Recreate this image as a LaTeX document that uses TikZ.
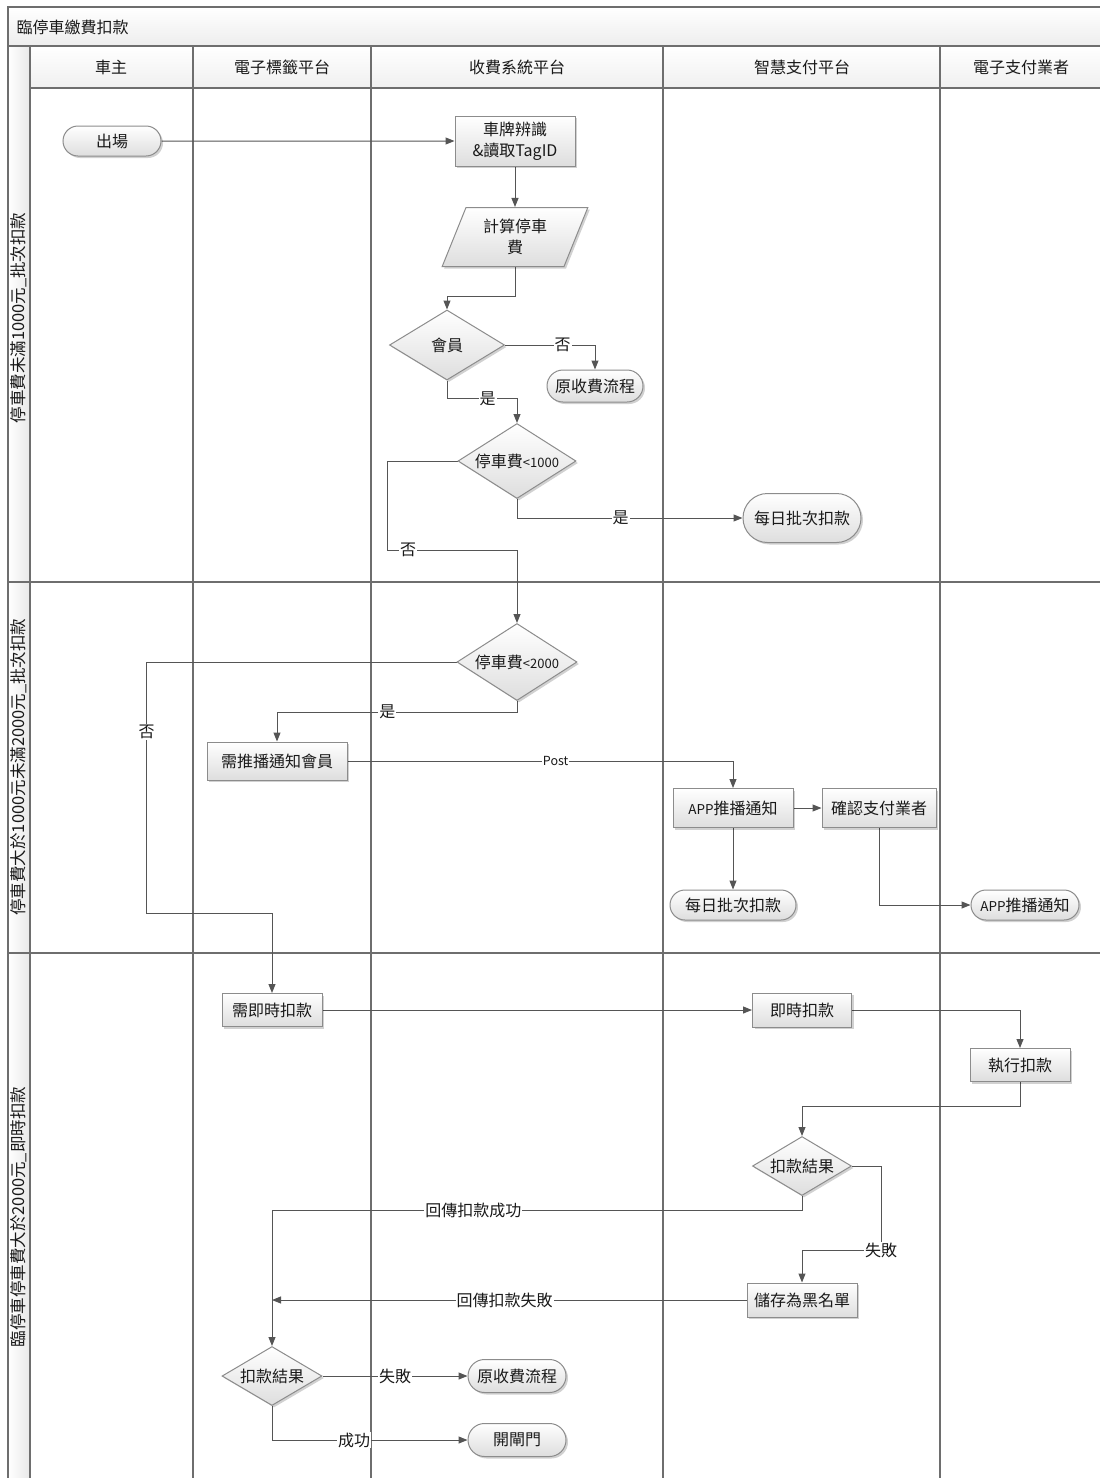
\documentclass[tikz,border=0pt]{standalone}
\usepackage{fontspec}
\setmainfont{Noto Sans CJK TC}
\usetikzlibrary{shapes.geometric,shapes.misc,arrows.meta,shadows}
\definecolor{lanec}{HTML}{6E6E6E}
\definecolor{linec}{HTML}{555555}
\definecolor{boxc}{HTML}{8C8C8C}
\pgfdeclarelayer{bg}
\pgfdeclarelayer{edges}
\pgfsetlayers{bg,edges,main}
\tikzset{
  nbase/.style={draw=boxc, line width=1pt, top color=white, bottom color=black!13,
    drop shadow={shadow xshift=2pt, shadow yshift=-2pt, fill=black, opacity=0.18},
    font=\fontsize{16}{21}\selectfont, inner sep=1pt, align=center, text=black!90},
  procbox/.style 2 args={nbase, rectangle, minimum width=#1, minimum height=#2},
  termbox/.style 2 args={nbase, rounded rectangle, minimum width=#1, minimum height=#2},
  decbox/.style 2 args={nbase, diamond, aspect=1.65, inner sep=0pt, minimum width=#1, minimum height=#2},
  iobox/.style 2 args={nbase, trapezium, trapezium left angle=67, trapezium right angle=113,
    trapezium stretches=true, minimum width=#1, minimum height=#2},
  arr/.style={draw=linec, line width=1pt, -{Triangle[length=9pt,width=7pt]}},
  lbl/.style={fill=white, inner sep=1pt, font=\fontsize{16}{18}\selectfont, text=black!90},
  lanel/.style={draw=lanec, line width=1.3pt},
  hdr/.style={font=\fontsize{16}{18}\selectfont, text=black!90},
  lanetxt/.style={font=\fontsize{16.5}{18}\selectfont, rotate=90, text=black!90}
}
\begin{document}
\begin{tikzpicture}[x=1pt,y=-1pt]
\useasboundingbox (0,0) rectangle (1100,1478);
% ---------- swimlane frame ----------
\begin{pgfonlayer}{bg}
  \fill[white] (0,0) rectangle (1100,1478);
  \shade[top color=white, bottom color=black!7] (8,7) rectangle (1100,46);
  \shade[top color=white, bottom color=black!6] (30,46) rectangle (1100,88);
  \shade[left color=white, right color=black!9] (8,46) rectangle (30,1478);
  \draw[lanel] (1100,7) -- (8,7) -- (8,1478);
  \draw[lanel] (8,46) -- (1100,46);
  \draw[lanel] (30,88) -- (1100,88);
  \draw[lanel] (8,582) -- (1100,582);
  \draw[lanel] (8,953) -- (1100,953);
  \foreach \xx in {30,193,371,663,940} \draw[lanel] (\xx,46) -- (\xx,1478);
  \node[anchor=west, hdr] (title) at (13,27) {臨停車繳費扣款};
  \node[hdr] (h1) at (111,67) {車主};
  \node[hdr] (h2) at (282,67) {電子標籤平台};
  \node[hdr] (h3) at (517,67) {收費系統平台};
  \node[hdr] (h4) at (802,67) {智慧支付平台};
  \node[hdr] (h5) at (1021,67) {電子支付業者};
  \node[lanetxt] (l1) at (19,318) {停車費未滿1000元\_批次扣款};
  \node[lanetxt] (l2) at (19,767) {停車費大於1000元未滿2000元\_批次扣款};
  \node[lanetxt] (l3) at (19,1217) {臨停車停車費大於2000元\_即時扣款};
\end{pgfonlayer}
% ---------- nodes ----------
\node[termbox={100pt}{30pt}] (start) at (112,141) {出場};
\node[procbox={120pt}{50pt}] (lpr) at (515,141) {車牌辨識\\\&讀取TagID};
\node[iobox={147pt}{59pt}] (calc) at (515,237) {計算停車\\費};
\node[decbox={115pt}{70pt}] (mem) at (447,345) {會員};
\node[termbox={98pt}{32pt}] (orig1) at (595,386) {原收費流程};
\node[decbox={118pt}{75pt}] (d1000) at (517,461) {停車費{\fontsize{13}{15}\selectfont<1000}};
\node[termbox={120pt}{49pt}] (batch1) at (802,518) {每日批次扣款};
\node[decbox={120pt}{77pt}] (d2000) at (517,662) {停車費{\fontsize{13}{15}\selectfont<2000}};
\node[procbox={140pt}{38pt}] (push) at (277,761) {需推播通知會員};
\node[procbox={120pt}{39pt}] (app) at (733,808) {{\fontsize{13.5}{15}\selectfont APP}推播通知};
\node[procbox={114pt}{39pt}] (confirm) at (879,808) {確認支付業者};
\node[termbox={128pt}{30pt}] (batch2) at (733,905) {每日批次扣款};
\node[termbox={110pt}{30pt}] (app2) at (1025,905) {{\fontsize{13.5}{15}\selectfont APP}推播通知};
\node[procbox={100pt}{33pt}] (instant) at (272,1010) {需即時扣款};
\node[procbox={99pt}{34pt}] (inst2) at (802,1010) {即時扣款};
\node[procbox={100pt}{33pt}] (exec) at (1020,1065) {執行扣款};
\node[decbox={99pt}{59pt}] (res1) at (802,1166) {扣款結果};
\node[procbox={110pt}{34pt}] (black) at (802,1300) {儲存為黑名單};
\node[decbox={100pt}{59pt}] (res2) at (272,1376) {扣款結果};
\node[termbox={100pt}{33pt}] (orig2) at (517,1376) {原收費流程};
\node[termbox={100pt}{33pt}] (gate) at (517,1440) {開閘門};
\coordinate (failend) at (272,1300);
% ---------- connectors ----------
\begin{pgfonlayer}{edges}
\draw[arr] (start) -- (lpr);
\draw[arr] (lpr) -- (calc);
\draw[arr] (calc.south) -- ++(0,29) -| (mem.north);
\draw[arr] (mem.east) -| node[lbl,pos=0.32]{否} (orig1.north);
\draw[arr] (mem.south) -- ++(0,18) -| node[lbl,pos=0.29]{是} (d1000.north);
\draw[arr] (d1000.south) |- node[lbl,pos=0.73]{是} (batch1.west);
\draw[arr] (d1000.west) -- ++(-70,0) -- ++(0,89) -| node[lbl,pos=0.08]{否} (d2000.north);
\draw[arr] (d2000.west) -- ++(-310,0) -- node[lbl,pos=0.28]{否} ++(0,251) -| (instant.north);
\draw[arr] (d2000.south) -- ++(0,11) -| node[lbl,pos=0.27]{是} (push.north);
\draw[arr] (push.east) -| node[lbl,pos=0.27,font=\fontsize{12.5}{14}\selectfont]{Post} (app.north);
\draw[arr] (app) -- (confirm);
\draw[arr] (app) -- (batch2);
\draw[arr] (confirm.south) |- (app2.west);
\draw[arr] (instant) -- (inst2);
\draw[arr] (inst2.east) -| (exec.north);
\draw[arr] (exec.south) -- ++(0,24) -| (res1.north);
\draw[arr] (res1.east) -- ++(29,0) -- ++(0,84) node[lbl]{失敗} -| (black.north);
\draw[arr] (res1.south) -- ++(0,14) -| node[lbl,pos=0.31]{回傳扣款成功} (res2.north);
\draw[arr] (black.west) -- node[lbl,pos=0.51]{回傳扣款失敗} (failend);
\draw[arr] (res2.east) -- node[lbl,pos=0.5]{失敗} (orig2.west);
\draw[arr] (res2.south) |- node[lbl,pos=0.71]{成功} (gate.west);
\end{pgfonlayer}
\end{tikzpicture}
\end{document}
